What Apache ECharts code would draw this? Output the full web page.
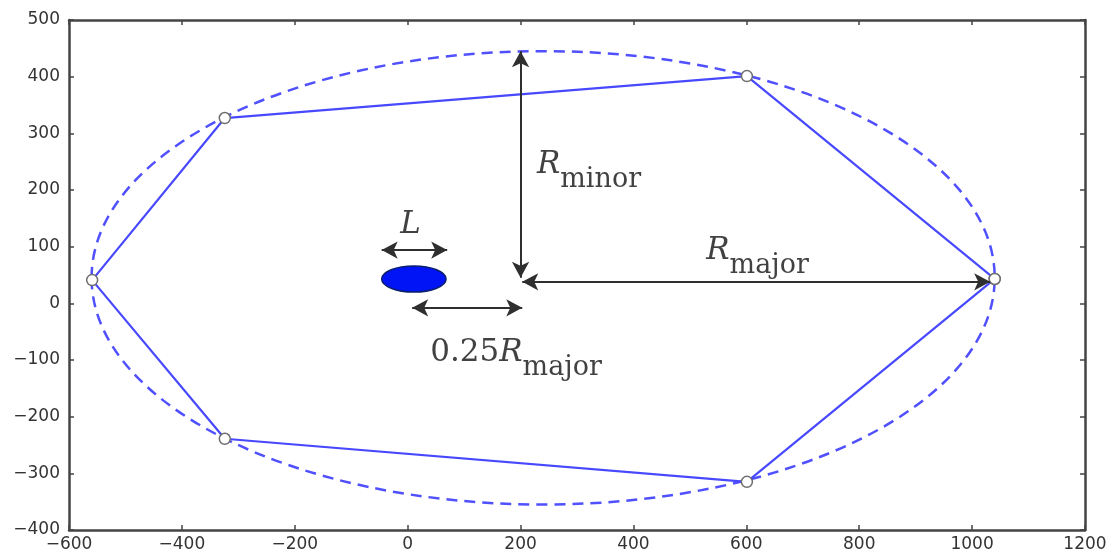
<!DOCTYPE html>
<html>
<head>
<meta charset="utf-8">
<script src="https://cdn.jsdelivr.net/npm/echarts@6/dist/echarts.min.js"></script>
<style>
    html, body { margin: 0; padding: 0; background: #fff; }
    #chart { width: 1110px; height: 556px; }
</style>
</head>
<body>
<div id="chart"></div>
<script>
// 多边形顶点 (闭合)
var polyX = [1040, 601, -324, -559, -324, 601, 1040];
var polyY = [43, 401, 327, 41, -239, -315, 43];

// 椭圆: 中心x, 中心y, 半长轴, 半短轴
var orbitEllipse = [240, 45, 800, 400];
var bodyEllipse = [11, 43, 57, 23];

// 箭头 [x1, y1, x2, y2]
var arrowMinor = [200, 45, 200, 445];
var arrowMajor = [203, 38, 1032, 38];
var arrowL = [-46, 94, 70, 94];
var arrowOffset = [8, -8, 203, -8];

// 文本标注位置
var labelNames = ['L', 'Rminor', 'Rmajor', 'R025'];
var labelX = [-13, 229, 529, 40];
var labelY = [131, 237, 85, -95];

var xTicks = { min: -600, max: 1200, step: 200 };
var yTicks = { min: -400, max: 500, step: 100 };

var chart = echarts.init(document.getElementById('chart'));

function fmtNum(v) {
    return v < 0 ? '\u2212' + (-v) : String(v);
}

var polyData = [];
for (var i = 0; i < polyX.length; i++) {
    polyData.push([polyX[i], polyY[i]]);
}

function toLine(a) {
    return [{ coord: [a[0], a[1]] }, { coord: [a[2], a[3]] }];
}

var labelData = [];
for (var j = 0; j < labelNames.length; j++) {
    labelData.push({ name: labelNames[j], value: [labelX[j], labelY[j]] });
}

var axisLineStyle = { color: '#444', width: 2.5 };
var tickStyle = { color: '#444', width: 1.5 };
var textColor = '#111';

var rich = {
    big: { fontFamily: 'DejaVu Serif', fontSize: 31, color: textColor, lineHeight: 40, verticalAlign: 'top' },
    it: { fontFamily: 'DejaVu Serif', fontStyle: 'italic', fontSize: 31, color: textColor, lineHeight: 40, verticalAlign: 'top' },
    sub: { fontFamily: 'DejaVu Serif', fontSize: 27, color: textColor, lineHeight: 20, padding: [17, 0, 0, 0], verticalAlign: 'top' }
};

var option = {
    animation: false,
    backgroundColor: '#fff',
    grid: { left: 69, right: 25, top: 20, bottom: 26, containLabel: false },
    xAxis: [
        {
            type: 'value', min: xTicks.min, max: xTicks.max, interval: xTicks.step,
            axisLine: { show: true, onZero: false, lineStyle: axisLineStyle },
            axisTick: { show: true, inside: true, length: 5, lineStyle: tickStyle },
            axisLabel: { color: '#333', fontFamily: 'DejaVu Sans', fontSize: 17, margin: 6, formatter: fmtNum },
            splitLine: { show: false }
        },
        {
            type: 'value', position: 'top', min: xTicks.min, max: xTicks.max, interval: xTicks.step,
            axisLine: { show: true, onZero: false, lineStyle: axisLineStyle },
            axisTick: { show: true, inside: true, length: 5, lineStyle: tickStyle },
            axisLabel: { show: false },
            splitLine: { show: false }
        }
    ],
    yAxis: [
        {
            type: 'value', min: yTicks.min, max: yTicks.max, interval: yTicks.step,
            axisLine: { show: true, onZero: false, lineStyle: axisLineStyle },
            axisTick: { show: true, inside: true, length: 5, lineStyle: tickStyle },
            axisLabel: { color: '#333', fontFamily: 'DejaVu Sans', fontSize: 17, margin: 9, formatter: fmtNum },
            splitLine: { show: false }
        },
        {
            type: 'value', position: 'right', min: yTicks.min, max: yTicks.max, interval: yTicks.step,
            axisLine: { show: true, onZero: false, lineStyle: axisLineStyle },
            axisTick: { show: true, inside: true, length: 5, lineStyle: tickStyle },
            axisLabel: { show: false },
            splitLine: { show: false }
        }
    ],
    series: [
        {
            // 虚线轨道椭圆
            type: 'custom',
            silent: true,
            data: [orbitEllipse],
            renderItem: function (params, api) {
                var c = api.coord([api.value(0), api.value(1)]);
                var s = api.size([api.value(2), api.value(3)]);
                return {
                    type: 'ellipse',
                    shape: { cx: c[0], cy: c[1], rx: s[0], ry: s[1] },
                    style: { fill: 'none', stroke: '#5050ff', lineWidth: 2.5, lineDash: [11, 7] }
                };
            },
            z: 2
        },
        {
            // 实心小椭圆
            type: 'custom',
            silent: true,
            data: [bodyEllipse],
            renderItem: function (params, api) {
                var c = api.coord([api.value(0), api.value(1)]);
                var s = api.size([api.value(2), api.value(3)]);
                return {
                    type: 'ellipse',
                    shape: { cx: c[0], cy: c[1], rx: s[0], ry: s[1] },
                    style: { fill: '#0014f5', stroke: '#0a1f6e', lineWidth: 1.5 }
                };
            },
            z: 3
        },
        {
            type: 'line',
            data: polyData,
            showSymbol: true,
            symbol: 'circle',
            symbolSize: 11,
            lineStyle: { color: '#4848ff', width: 2.2 },
            itemStyle: { color: '#fff', borderColor: '#6e6e6e', borderWidth: 1.5 },
            z: 4
        },
        {
            type: 'line',
            data: [],
            silent: true,
            markLine: {
                silent: true,
                symbol: ['arrow', 'arrow'],
                symbolSize: [13, 16],
                label: { show: false },
                lineStyle: { color: '#2f2f2f', width: 2, type: 'solid' },
                data: [toLine(arrowMinor), toLine(arrowMajor), toLine(arrowL), toLine(arrowOffset)]
            },
            z: 5
        },
        {
            type: 'scatter',
            data: labelData,
            symbolSize: 0,
            silent: true,
            label: {
                show: true,
                position: 'right',
                distance: 0,
                color: textColor,
                textBorderWidth: 0,
                rich: rich,
                formatter: function (p) {
                    if (p.name === 'L') return '{it|L}';
                    if (p.name === 'Rminor') return '{it|R}{sub|minor}';
                    if (p.name === 'Rmajor') return '{it|R}{sub|major}';
                    return '{big|0.25}{it|R}{sub|major}';
                }
            },
            z: 6
        }
    ]
};

chart.setOption(option);
window.addEventListener('resize', function () {
    chart.resize();
});
</script>
</body>
</html>
